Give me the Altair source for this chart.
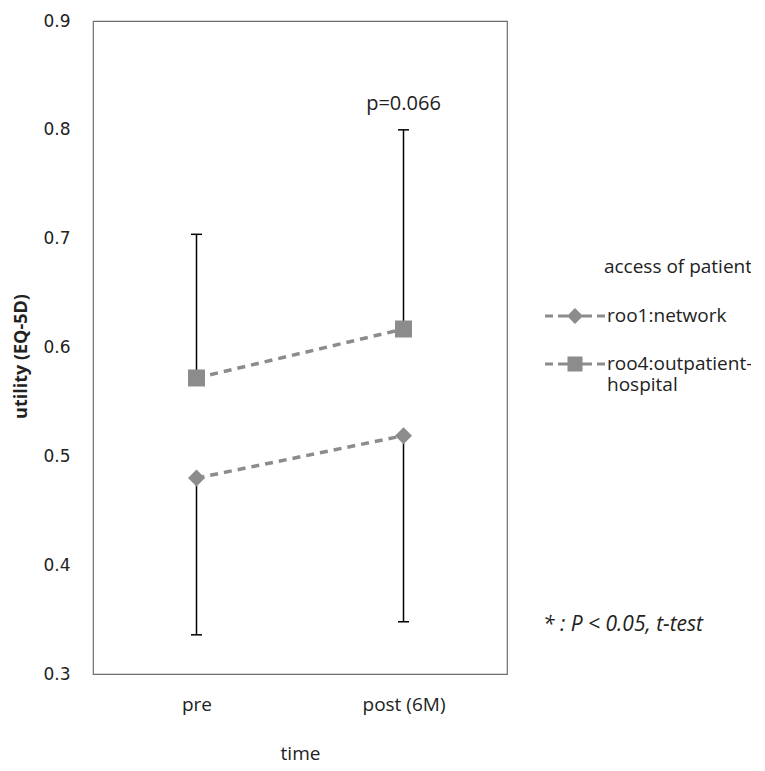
import altair as alt
import pandas as pd

# ---- data ----
times = ["pre", "post (6M)"]
series_names = ["roo1:network", "roo4:outpatient-hospital"]
roo1_mean = [0.480, 0.519]
roo1_lower = [0.336, 0.348]
roo4_mean = [0.572, 0.617]
roo4_upper = [0.704, 0.800]
p_label = "p=0.066"
footnote = "* : P < 0.05, t-test"
y_ticks = [0.3, 0.4, 0.5, 0.6, 0.7, 0.8, 0.9]

rows = []
for i, t in enumerate(times):
    rows.append({"time": t, "series": series_names[0], "mean": roo1_mean[i], "bound": roo1_lower[i]})
    rows.append({"time": t, "series": series_names[1], "mean": roo4_mean[i], "bound": roo4_upper[i]})
df = pd.DataFrame(rows)
ann = pd.DataFrame({"time": [times[1]], "y": [roo4_upper[1]], "label": [p_label]})
foot = pd.DataFrame({"label": [footnote]})

W, H = 414, 653
GRAY = "#8c8c8c"
TXT = "#222222"
FONT = "Open Sans"

x_enc = alt.X(
    "time:N", sort=times,
    scale=alt.Scale(type="point", padding=0.5, domain=times),
    axis=alt.Axis(title="time", labelAngle=0, domain=False, ticks=False, grid=False,
                  labelFont=FONT, labelFontSize=19, labelColor=TXT, labelPadding=21,
                  titleFont=FONT, titleFontSize=19, titleFontWeight="normal", titleColor=TXT,
                  titlePadding=30),
)
y_scale = alt.Scale(domain=[0.3, 0.9], nice=False, zero=False)
y_axis = alt.Axis(title="utility (EQ-5D)", values=y_ticks, format=".1f", domain=False, ticks=False,
                  grid=False, labelFont="DejaVu Sans", labelFontSize=17, labelColor=TXT,
                  labelPadding=23, titleFont=FONT, titleFontSize=18, titleFontWeight="bold",
                  titleColor=TXT, titleX=-63, titleY=335)

base = alt.Chart(df)

err = base.mark_rule(color="black", strokeWidth=1.5).encode(
    x=x_enc, y=alt.Y("mean:Q", scale=y_scale, axis=y_axis), y2="bound:Q")
cap = base.mark_tick(color="black", thickness=1.5, size=11, opacity=1).encode(
    x=x_enc, y=alt.Y("bound:Q", scale=y_scale))
line = base.mark_line(color=GRAY, strokeWidth=3.5, strokeDash=[8, 6]).encode(
    x=x_enc, y=alt.Y("mean:Q", scale=y_scale), detail="series:N")
pts = base.mark_point(filled=True, color=GRAY, opacity=1, size=289).encode(
    x=x_enc, y=alt.Y("mean:Q", scale=y_scale),
    shape=alt.Shape("series:N", scale=alt.Scale(domain=series_names, range=["diamond", "square"]),
                    legend=None))

# legend-only layer with dashed-line + marker symbols
dash = "M-3,-0.15L-2.2,-0.15L-2.2,0.15L-3,0.15Z M-1.7,-0.15L-0.7,-0.15L-0.7,0.15L-1.7,0.15Z M0.7,-0.15L1.7,-0.15L1.7,0.15L0.7,0.15Z M2.2,-0.15L3,-0.15L3,0.15L2.2,0.15Z"
diamond_path = dash + " M-0.8,0L0,-0.8L0.8,0L0,0.8Z"
square_path = dash + " M-0.75,-0.75L0.75,-0.75L0.75,0.75L-0.75,0.75Z"
leg = base.mark_point(filled=True, color=GRAY, opacity=1).encode(
    x=x_enc, y=alt.Y("mean:Q", scale=y_scale),
    shape=alt.Shape("leg:N", scale=alt.Scale(domain=series_names, range=[diamond_path, square_path]),
                    legend=alt.Legend(
                        title="access of patient", orient="none", legendX=472, legendY=237,
                        symbolSize=400, symbolStrokeWidth=0, symbolFillColor=GRAY,
                        labelOffset=22, labelFont=FONT, labelFontSize=19, labelColor=TXT,
                        labelLimit=400,
                        labelExpr="datum.label == 'roo4:outpatient-hospital' ? ['roo4:outpatient-', 'hospital'] : datum.label",
                        titleFont=FONT, titleFontSize=19, titleFontWeight="normal", titleColor=TXT,
                        titleAnchor="end", titlePadding=29, rowPadding=28, padding=0))
).transform_calculate(leg="datum.series").transform_filter("false")

ptext = alt.Chart(ann).mark_text(font=FONT, fontSize=20, color=TXT, dy=-26).encode(
    x=alt.X("time:N", sort=times, scale=alt.Scale(type="point", padding=0.5, domain=times)),
    y=alt.Y("y:Q", scale=y_scale), text="label:N")

ftext = alt.Chart(foot).mark_text(font=FONT, fontSize=21, fontStyle="italic", color=TXT,
                                  align="left", baseline="middle").encode(
    x=alt.value(W + 36), y=alt.value(604), text="label:N")

chart = alt.layer(line, err, cap, pts, leg, ptext, ftext).resolve_scale(shape="independent").properties(
    width=W, height=H,
    autosize=alt.AutoSizeParams(type="none"),
    padding={"left": 85, "top": 13, "right": 244, "bottom": 90},
    background="white",
).configure_view(stroke="#6e6e6e", strokeWidth=1.2)

chart.save("out.html", embed_options={"renderer": "svg", "actions": False})
